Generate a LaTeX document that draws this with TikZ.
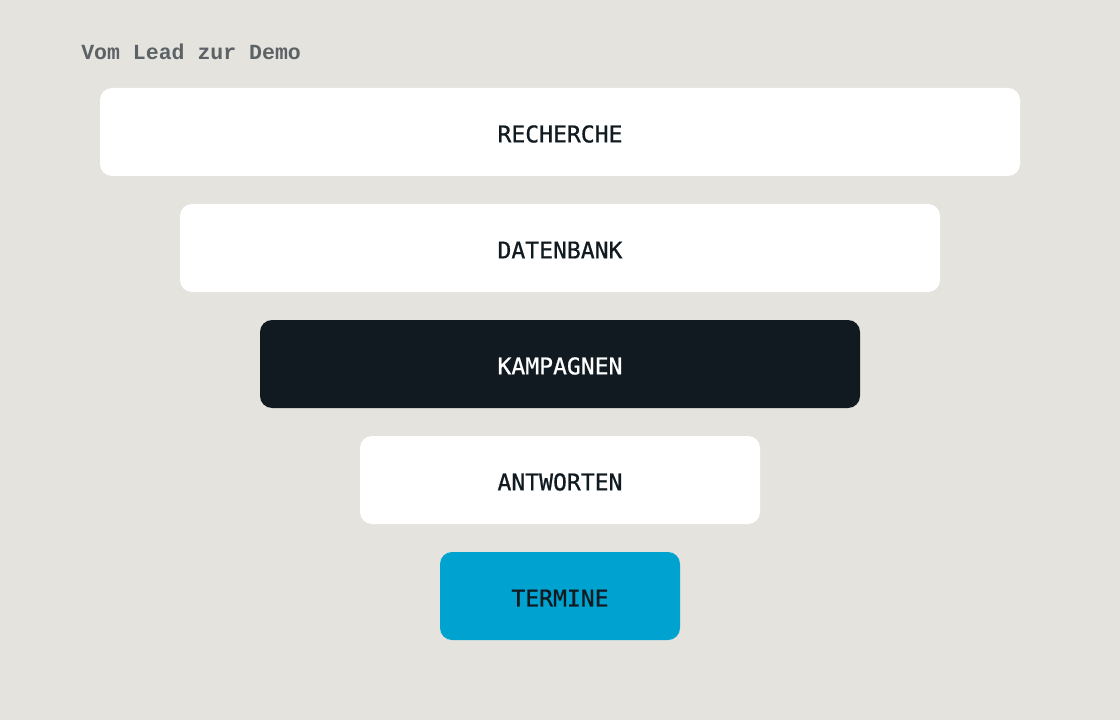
\documentclass[tikz,border=0pt]{standalone}
\usepackage{fontspec}
\newfontfamily\titlefont{Liberation Mono}
\newfontfamily\labelfont[FakeBold=0.8]{DejaVu Sans Mono}
\definecolor{bg}{HTML}{E5E3DE}
\definecolor{ink}{HTML}{101A20}
\definecolor{titlegrey}{HTML}{5C6266}
\definecolor{accent}{HTML}{00A3D0}
\tikzset{
  stagelabel/.style={font=\labelfont\fontsize{17.3}{19}\selectfont, text=ink, inner sep=0pt},
}
\begin{document}
\begin{tikzpicture}[x=0.75pt,y=-0.75pt]
\useasboundingbox (0,0) rectangle (1120,720);
\fill[bg] (0,0) rectangle (1120,720);
\node[font=\titlefont\bfseries\fontsize{16.15}{18}\selectfont, text=titlegrey, anchor=base west, inner sep=0pt] (title) at (81,60) {Vom Lead zur Demo};
\fill[white, rounded corners=9pt] (100,88) rectangle (1020,176);
\node[stagelabel] (s1) at (560,134) {RECHERCHE};
\fill[white, rounded corners=9pt] (180,204) rectangle (940,292);
\node[stagelabel] (s2) at (560,250) {DATENBANK};
\fill[ink, rounded corners=9pt] (260,320) rectangle (860,408);
\node[stagelabel, text=white] (s3) at (560,366) {KAMPAGNEN};
\fill[white, rounded corners=9pt] (360,436) rectangle (760,524);
\node[stagelabel] (s4) at (560,482) {ANTWORTEN};
\fill[accent, rounded corners=9pt] (440,552) rectangle (680,640);
\node[stagelabel] (s5) at (560,598) {TERMINE};
\end{tikzpicture}
\end{document}
